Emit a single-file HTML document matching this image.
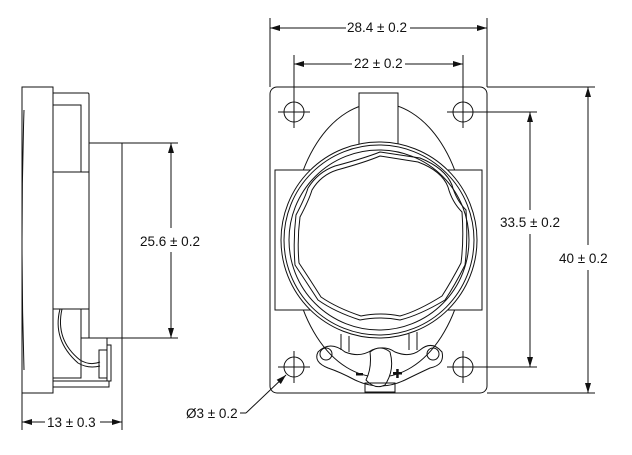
<!DOCTYPE html>
<html><head><style>
html,body{margin:0;padding:0;background:#fff;}
svg{display:block}
text{font-family:"Liberation Sans",sans-serif;font-size:13.5px;fill:#111}
</style></head><body>
<svg width="632" height="455" viewBox="0 0 632 455" xmlns="http://www.w3.org/2000/svg">
<defs>
<marker id="a" viewBox="0 0 10 6" refX="10" refY="3" markerWidth="10" markerHeight="6" orient="auto-start-reverse" markerUnits="userSpaceOnUse"><path d="M0,0L10,3L0,6z" fill="#111"/></marker>
</defs>
<g fill="none" stroke="#111" stroke-width="1">
<rect x="22" y="87" width="31" height="306"/>
<path d="M24,110 Q20,240 24,370"/>
<path d="M53,93 H88 Q89,93 89,95 V143"/>
<path d="M53,105 H81 V172"/>
<rect x="89" y="143" width="33" height="195"/>
<rect x="53" y="172" width="36" height="137"/>
<path d="M81,309 V338 H107 V380"/>
<path d="M53,378 H81 V338"/>
<path d="M62,309 Q55,340 80,360 Q90,366 100,362"/>
<path d="M60,309 Q52,340 78,363 Q88,369 100,366"/>
<rect x="99" y="350" width="8" height="28"/>
<rect x="107" y="345" width="4" height="36"/>
<path d="M53,381 H109 V387 H53"/>
<path d="M122,338 H178 M122,143 H178"/>
<line x1="171" y1="143" x2="171" y2="228" marker-start="url(#a)"/>
<line x1="171" y1="252" x2="171" y2="338" marker-end="url(#a)"/>
<path d="M22,393 V430 M122,338 V430"/>
<line x1="22" y1="422" x2="45" y2="422" marker-start="url(#a)"/>
<line x1="100" y1="422" x2="122" y2="422" marker-end="url(#a)"/>
<rect x="270" y="87" width="217" height="306" rx="7"/>
<ellipse cx="379" cy="240" rx="88" ry="137"/>
<rect x="275" y="170" width="207" height="140" fill="#fff"/>
<rect x="359" y="93" width="39" height="52" fill="#fff"/>
<circle cx="379" cy="240" r="98" fill="#fff"/>
<circle cx="379" cy="240" r="95"/>
<circle cx="379" cy="240" r="90"/>
<path d="M335,166 Q365,158 380,152 Q400,155 420,158 Q445,168 452,185 Q456,200 466,210 Q468,240 465,265 Q455,285 445,300 Q420,315 400,320 Q380,316 360,320 Q335,312 318,300 Q305,280 295,265 Q293,240 296,215 Q305,198 308,188 Q318,172 335,166z"/>
<path d="M337,170 Q366,162 380,156 Q399,159 418,162 Q442,171 448,187 Q452,202 462,212 Q464,240 461,263 Q451,282 442,296 Q418,311 400,316 Q380,312 361,316 Q337,308 321,297 Q309,278 299,263 Q297,240 300,217 Q309,200 312,190 Q321,175 337,170z"/>
<path d="M341,334 V350 M349,336 V352 M409,334 V350 M417,332 V350"/>
<path d="M318,352 Q330,340 345,352 Q360,358 372,350 Q385,345 395,352 Q410,358 420,350 Q432,340 442,352 Q445,365 430,368 Q415,375 405,380 Q380,392 355,380 Q340,372 328,368 Q313,362 318,352z"/>
<circle cx="326" cy="354" r="6"/>
<circle cx="433" cy="354" r="6"/>
<path d="M370,352 Q380,344 390,352 Q395,370 385,385 Q375,390 366,380 Q372,368 370,352z" fill="#fff"/>
<rect x="365" y="383" width="30" height="9"/>
<g>
<circle cx="294" cy="112" r="10"/><path d="M278,112H310M294,96V128"/>
<circle cx="463" cy="112" r="10"/><path d="M447,112H479M463,96V128"/>
<circle cx="294" cy="367" r="10"/><path d="M278,367H310M294,351V383"/>
<circle cx="463" cy="367" r="10"/><path d="M447,367H479M463,351V383"/>
</g>
<path d="M270,87 V18 M487,87 V18 M294,102 V55 M463,102 V55"/>
<line x1="270" y1="28" x2="346" y2="28" marker-start="url(#a)"/>
<line x1="410" y1="28" x2="487" y2="28" marker-end="url(#a)"/>
<line x1="294" y1="64" x2="352" y2="64" marker-start="url(#a)"/>
<line x1="405" y1="64" x2="463" y2="64" marker-end="url(#a)"/>
<path d="M475,112 H537 M475,367 H537 M487,87 H595 M487,393 H595"/>
<line x1="530" y1="112" x2="530" y2="210" marker-start="url(#a)"/>
<line x1="530" y1="234" x2="530" y2="367" marker-end="url(#a)"/>
<line x1="588" y1="87" x2="588" y2="245" marker-start="url(#a)"/>
<line x1="588" y1="270" x2="588" y2="393" marker-end="url(#a)"/>
<path d="M240,413 H246"/>
<line x1="246" y1="413" x2="286" y2="375" marker-end="url(#a)"/>
</g>
<path d="M356,373h7v2.5h-7z" fill="#111"/>
<path d="M393,372h9v2.5h-9zM396.2,369h2.5v9h-2.5z" fill="#111"/>
<text x="140" y="246">25.6 ± 0.2</text>
<text x="47" y="427">13 ± 0.3</text>
<text x="347" y="32">28.4 ± 0.2</text>
<text x="354" y="68">22 ± 0.2</text>
<text x="500" y="227">33.5 ± 0.2</text>
<text x="559" y="263">40 ± 0.2</text>
<text x="186" y="418">Ø3 ± 0.2</text>
</svg>
</body></html>
